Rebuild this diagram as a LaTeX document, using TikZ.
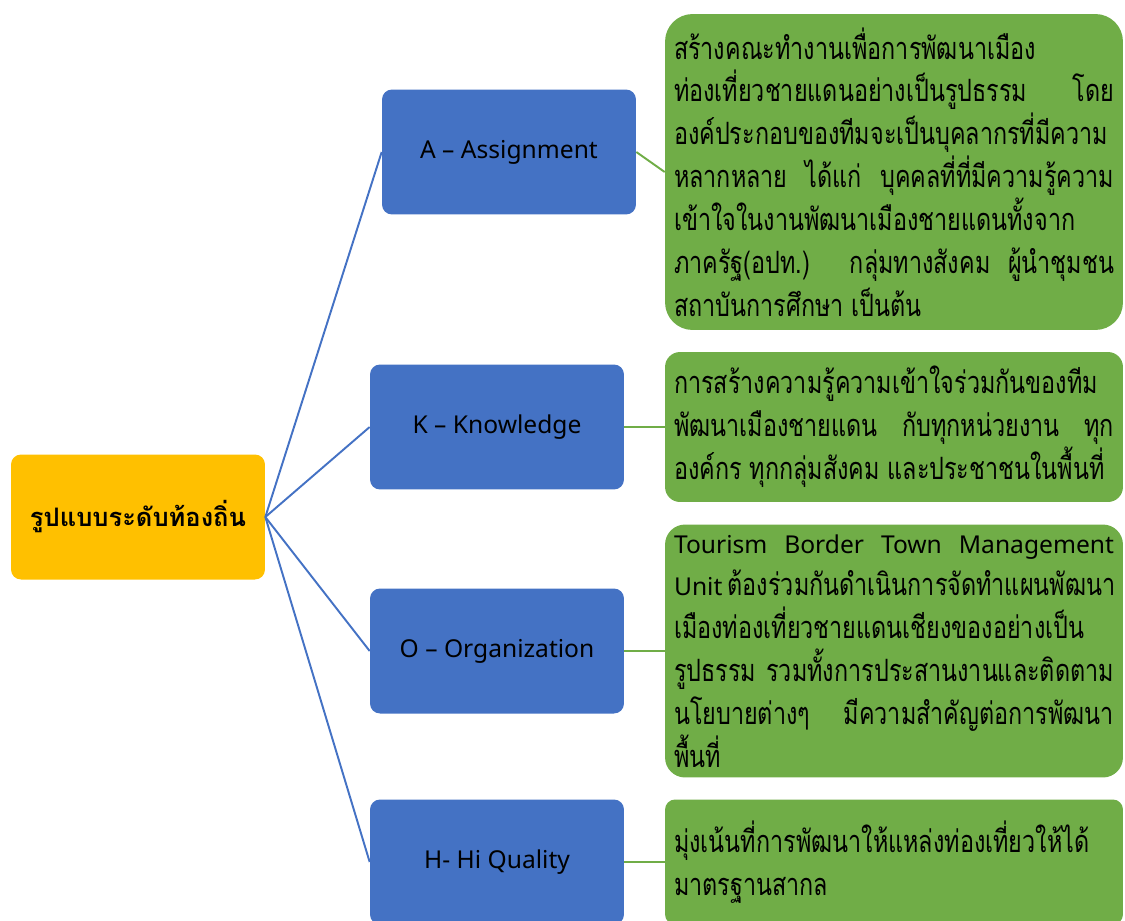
\documentclass[tikz,border=0pt]{standalone}
\usepackage{fontspec}
\setmainfont[Script=Thai]{Loma}
\newfontfamily\detailfont[Script=Thai, FakeStretch=0.76]{Loma}
\newfontfamily\labelfont{Noto Sans}
\definecolor{rootyellow}{HTML}{FFC000}
\definecolor{branchblue}{HTML}{4472C4}
\definecolor{detailgreen}{HTML}{70AD47}

\begin{document}
\begin{tikzpicture}[x=0.02cm, y=-0.02cm,
    rootbox/.style={fill=rootyellow, rounded corners=0.2cm, minimum width=5.08cm,
        minimum height=2.5cm, font=\bfseries\fontsize{14.5}{18}\selectfont},
    branchbox/.style={fill=branchblue, rounded corners=0.2cm, minimum width=5.08cm,
        minimum height=2.5cm, font=\labelfont\fontsize{14}{17}\selectfont},
    detailbox/.style={fill=detailgreen, minimum width=9.16cm, text width=8.8cm,
        inner sep=0pt, align=justify, font=\detailfont\fontsize{17.5}{24.4}\selectfont},
    bluelink/.style={branchblue, line width=1.1pt},
    greenlink/.style={detailgreen, line width=1.1pt}]
    \useasboundingbox (0,0) rectangle (1125,920);

    % Draw root
    \node[rootbox] (root) at (138,517) {รูปแบบระดับท้องถิ่น};

    % Draw branch boxes
    \node[branchbox] (a) at (509,152) {A – Assignment};
    \node[branchbox] (k) at (497,427) {K – Knowledge};
    \node[branchbox] (o) at (497,651) {O – Organization};
    \node[branchbox] (h) at (497,862) {H- Hi Quality};

    % Draw detail boxes
    \node[detailbox, rounded corners=0.55cm, minimum height=6.32cm] (a-txt) at (894,172) {%
        สร้างคณะทำงานเพื่อการพัฒนาเมือง\linebreak
        ท่องเที่ยวชายแดนอย่างเป็นรูปธรรม โดย\linebreak
        องค์ประกอบของทีมจะเป็นบุคลากรที่มีความ\linebreak
        หลากหลาย ได้แก่ บุคคลที่ที่มีความรู้ความ\linebreak
        เข้าใจในงานพัฒนาเมืองชายแดนทั้งจาก\linebreak
        ภาครัฐ(อปท.) กลุ่มทางสังคม ผู้นำชุมชน\linebreak
        สถาบันการศึกษา เป็นต้น};
    \node[detailbox, rounded corners=0.3cm, minimum height=3cm] (k-txt) at (894,427) {%
        การสร้างความรู้ความเข้าใจร่วมกันของทีม\linebreak
        พัฒนาเมืองชายแดน กับทุกหน่วยงาน ทุก\linebreak
        องค์กร ทุกกลุ่มสังคม และประชาชนในพื้นที่};
    \node[detailbox, rounded corners=0.4cm, minimum height=5.06cm] (o-txt) at (894,651) {%
        {\labelfont\fontsize{14}{24.4}\selectfont Tourism Border Town Management}\linebreak
        {\labelfont\fontsize{14}{24.4}\selectfont Unit} ต้องร่วมกันดำเนินการจัดทำแผนพัฒนา\linebreak
        เมืองท่องเที่ยวชายแดนเชียงของอย่างเป็น\linebreak
        รูปธรรม รวมทั้งการประสานงานและติดตาม\linebreak
        นโยบายต่างๆ มีความสำคัญต่อการพัฒนา\linebreak
        พื้นที่};
    \node[detailbox, rounded corners=0.2cm, minimum height=2.5cm, align=left] (h-txt) at (894,862) {%
        มุ่งเน้นที่การพัฒนาให้แหล่งท่องเที่ยวให้ได้\\
        มาตรฐานสากล};

    % Connect root to branches
    \foreach \b in {a,k,o,h} {
        \draw[bluelink] (root.east) -- (\b.west);
    }

    % Connect branches to details
    \foreach \b in {a,k,o,h} {
        \draw[greenlink] (\b.east) -- (\b-txt.west);
    }
\end{tikzpicture}
\end{document}
